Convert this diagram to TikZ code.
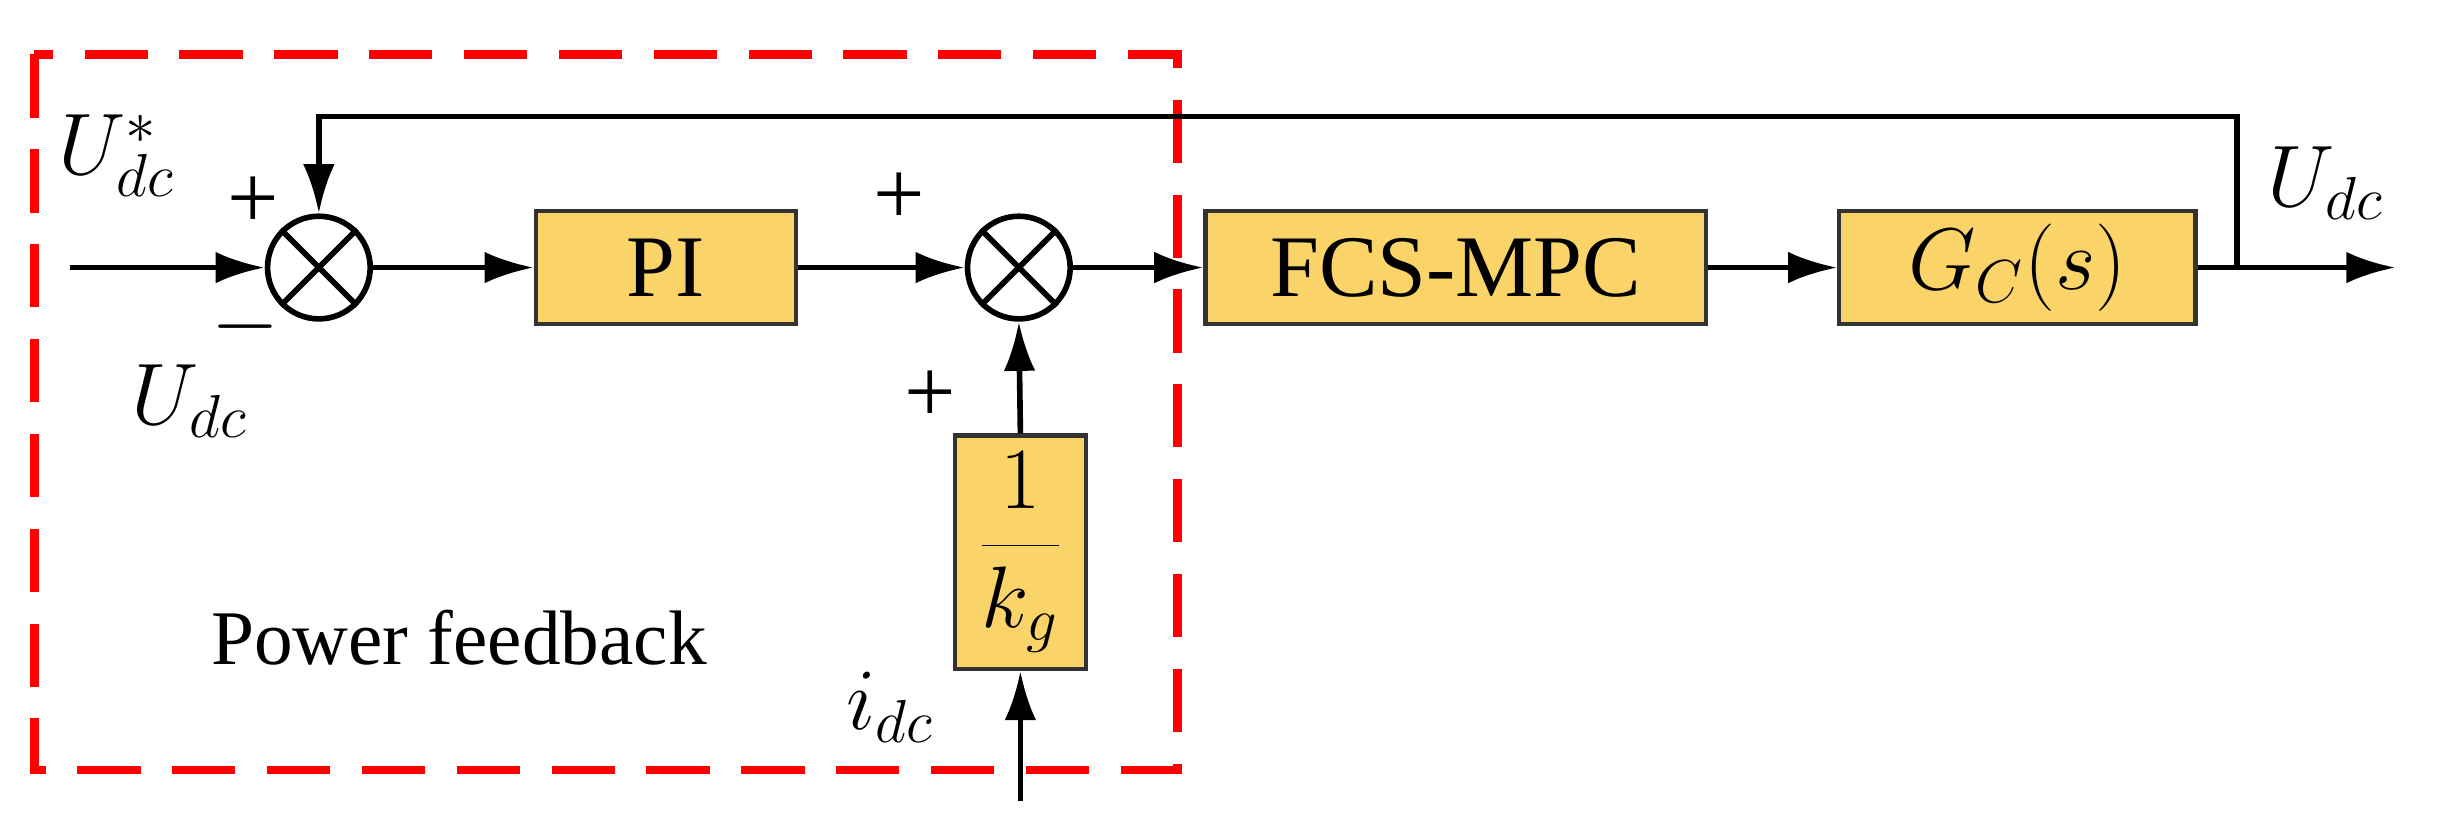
\documentclass[tikz,border=0pt]{standalone}
\usepackage{fontspec}
\setmainfont{Liberation Serif}
\usetikzlibrary{arrows.meta}
\definecolor{boxy}{HTML}{FAD468}
\begin{document}
\begin{tikzpicture}[x=0.01556cm,y=-0.01556cm,
  blk/.style={draw=black!80,line width=1.2pt,fill=boxy,inner sep=0pt},
  sum/.style={draw,circle,line width=1.6pt,minimum size=66*0.01556cm,inner sep=0pt},
  arr/.style={line width=1.6pt,-{Latex[length=14pt,width=9pt]}},
  big/.style={font=\fontsize{25}{30}\selectfont},
  lab/.style={font=\fontsize{26}{30}\selectfont}]
\useasboundingbox (0,0) rectangle (1568,527);
\draw[red,line width=2.5pt,dash pattern=on 18pt off 9pt] (22,35) rectangle (757,495);
\node[sum] (s1) at (205,172) {};
\draw[line width=1.6pt] (s1.north west)--(s1.south east) (s1.north east)--(s1.south west);
\node[sum] (s2) at (655,172) {};
\draw[line width=1.6pt] (s2.north west)--(s2.south east) (s2.north east)--(s2.south west);
\node[blk,minimum width=167*0.01556cm,minimum height=73*0.01556cm,big] (pi) at (428,172) {PI};
\node[blk,minimum width=322*0.01556cm,minimum height=73*0.01556cm,big] (mpc) at (936,172) {FCS-MPC};
\node[blk,minimum width=229*0.01556cm,minimum height=73*0.01556cm,big] (gc) at (1297,172) {$G_C(s)$};
\node[blk,minimum width=84*0.01556cm,minimum height=150*0.01556cm,big] (kg) at (656,355) {$\displaystyle\frac{1}{k_g}$};
\coordinate (in) at (45,172);
\coordinate (br) at (1438,172);
\coordinate (out) at (1540,172);
\coordinate (idc) at (656,515);
\draw[arr] (in) -- (s1.west);
\draw[arr] (s1.east) -- (pi.west);
\draw[arr] (pi.east) -- (s2.west);
\draw[arr] (s2.east) -- (mpc.west);
\draw[arr] (mpc.east) -- (gc.west);
\draw[arr] (gc.east) -- (out);
\draw[arr] (br) -- (1438,75) -- (205,75) -- (s1.north);
\draw[arr] (kg.north) -- (s2.south);
\draw[arr] (idc) -- (kg.south);
\node[lab] (l1) at (75,100) {$U^{*}_{dc}$};
\node[lab] (p1) at (163,130) {+};
\node[lab] (m1) at (158,210) {$-$};
\node[lab] (l2) at (122,258) {$U_{dc}$};
\node[lab] (p2) at (578,128) {+};
\node[lab] (p3) at (598,255) {+};
\node[lab] (l3) at (1495,118) {$U_{dc}$};
\node[lab] (l4) at (572,455) {$i_{dc}$};
\node[font=\fontsize{22}{26}\selectfont] (pf) at (295,410) {Power feedback};
\end{tikzpicture}
\end{document}
